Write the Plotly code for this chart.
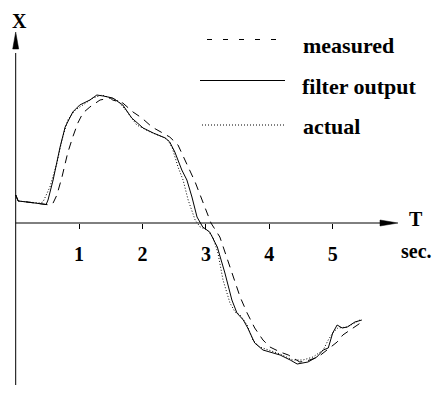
import plotly.graph_objects as go

# ---- data (time in sec, X in arbitrary units) ----
t_filter = [0.00, 0.04, 0.18, 0.43, 0.48, 0.51, 0.59, 0.70, 0.78, 0.90, 1.01, 1.17, 1.28, 1.38, 1.53,
            1.69, 1.83, 2.01, 2.17, 2.36, 2.43, 2.51, 2.62, 2.70, 2.78, 2.86, 2.91, 2.95, 3.06, 3.18,
            3.30, 3.41, 3.49, 3.59, 3.66, 3.77, 3.90, 4.01, 4.17, 4.33, 4.44, 4.61, 4.75, 4.85, 4.93,
            5.00, 5.07, 5.15, 5.23, 5.35, 5.46]
x_filter = [0.56, 0.44, 0.42, 0.38, 0.37, 0.46, 0.86, 1.52, 1.92, 2.22, 2.36, 2.46, 2.56, 2.54, 2.50,
            2.36, 2.10, 1.90, 1.80, 1.70, 1.62, 1.42, 1.06, 0.86, 0.52, 0.12, 0.00, -0.08, -0.18, -0.48,
            -1.00, -1.54, -1.80, -1.94, -2.10, -2.40, -2.54, -2.58, -2.64, -2.74, -2.82, -2.78, -2.68, -2.54, -2.50,
            -2.20, -2.04, -2.10, -2.08, -1.98, -1.94]

t_actual = [0.00, 0.04, 0.18, 0.38, 0.43, 0.54, 0.65, 0.73, 0.82, 0.94, 1.06, 1.22, 1.36, 1.53, 1.60,
            1.76, 1.91, 2.12, 2.32, 2.40, 2.47, 2.56, 2.64, 2.72, 2.83, 2.91, 3.02, 3.11, 3.19, 3.27,
            3.38, 3.46, 3.54, 3.65, 3.74, 3.85, 4.06, 4.17, 4.37, 4.53, 4.69, 4.85, 4.93, 5.00, 5.08,
            5.23, 5.43]
x_actual = [0.56, 0.44, 0.42, 0.40, 0.42, 0.72, 1.20, 1.66, 2.06, 2.26, 2.36, 2.50, 2.56, 2.50, 2.46,
            2.22, 1.96, 1.82, 1.72, 1.66, 1.50, 1.12, 0.86, 0.46, 0.06, -0.08, -0.14, -0.28, -0.60, -1.14,
            -1.60, -1.78, -1.84, -2.04, -2.34, -2.48, -2.58, -2.62, -2.74, -2.74, -2.68, -2.54, -2.34, -2.20, -2.10,
            -2.08, -1.94]

t_measured = [0.00, 0.04, 0.18, 0.46, 0.54, 0.59, 0.65, 0.73, 0.82, 0.90, 0.98, 1.06, 1.17, 1.33, 1.49,
              1.53, 1.69, 1.85, 1.99, 2.15, 2.36, 2.43, 2.56, 2.67, 2.75, 2.83, 2.94, 3.02, 3.08, 3.22,
              3.33, 3.43, 3.54, 3.65, 3.77, 3.90, 4.01, 4.17, 4.30, 4.48, 4.59, 4.77, 4.96, 5.07, 5.16,
              5.27, 5.38, 5.46]
x_measured = [0.56, 0.44, 0.42, 0.38, 0.36, 0.40, 0.56, 0.92, 1.40, 1.72, 2.00, 2.20, 2.32, 2.46, 2.50,
              2.46, 2.40, 2.22, 2.10, 1.92, 1.76, 1.72, 1.56, 1.26, 1.06, 0.82, 0.46, 0.20, 0.00, -0.28,
              -0.68, -1.08, -1.48, -1.80, -2.10, -2.34, -2.48, -2.58, -2.64, -2.78, -2.76, -2.68, -2.50, -2.38, -2.24,
              -2.14, -2.04, -1.98]

tick_vals = [1, 2, 3, 4, 5]
tick_text = ["1", "2", "3", "4", "5"]
legend_names = ["measured", "filter output", "actual"]

W, H = 435, 403
X_RANGE = [-0.2476, 6.6136]
Y_RANGE = [-3.6, 4.46]
FONT = "Liberation Serif"

fig = go.Figure()
fig.add_trace(go.Scatter(x=t_measured, y=x_measured, mode="lines", name=legend_names[0],
                         line=dict(color="black", width=1, dash="8px,6px")))
fig.add_trace(go.Scatter(x=t_actual, y=x_actual, mode="lines", name=legend_names[2],
                         line=dict(color="black", width=1, dash="1px,2px")))
fig.add_trace(go.Scatter(x=t_filter, y=x_filter, mode="lines", name=legend_names[1],
                         line=dict(color="black", width=1)))

def px(xp):
    return xp / W

def py(yp):
    return 1 - yp / H

shapes = []
# axes lines (data coordinates)
shapes.append(dict(type="line", xref="x", yref="y", x0=0, x1=0, y0=-3.24, y1=3.4,
                   line=dict(color="black", width=1)))
shapes.append(dict(type="line", xref="x", yref="y", x0=0, x1=5.8, y0=0, y1=0,
                   line=dict(color="black", width=1)))
# arrow heads (pixel-sized triangles anchored on axes)
shapes.append(dict(type="path", xref="x", yref="y", xsizemode="pixel", ysizemode="pixel",
                   xanchor=0, yanchor=3.82, path="M0,0 L-3,-17 L3,-17 Z",
                   fillcolor="black", line=dict(color="black", width=0.5)))
shapes.append(dict(type="path", xref="x", yref="y", xsizemode="pixel", ysizemode="pixel",
                   xanchor=6.03, yanchor=0, path="M0,0 L-18,3 L-18,-3 Z",
                   fillcolor="black", line=dict(color="black", width=0.5)))
# legend samples
shapes.append(dict(type="line", xref="paper", yref="paper", x0=px(207), x1=px(284), y0=py(39.5), y1=py(39.5),
                   line=dict(color="black", width=1, dash="5px,11px")))
shapes.append(dict(type="line", xref="paper", yref="paper", x0=px(200), x1=px(285), y0=py(80.5), y1=py(80.5),
                   line=dict(color="black", width=1)))
shapes.append(dict(type="line", xref="paper", yref="paper", x0=px(202), x1=px(285), y0=py(125), y1=py(125),
                   line=dict(color="black", width=1, dash="1px,2px")))

bold = dict(family=FONT, size=20, color="black", weight="bold")
legfont = dict(family=FONT, size=22, color="black", weight="bold")
annotations = [
    dict(text="X", x=px(19), y=py(21), xref="paper", yref="paper", showarrow=False,
         font=dict(family=FONT, size=20, color="black", weight="bold"), xanchor="center", yanchor="middle"),
    dict(text="T", x=px(416), y=py(219), xref="paper", yref="paper", showarrow=False,
         font=bold, xanchor="center", yanchor="middle"),
    dict(text="sec.", x=px(416), y=py(251), xref="paper", yref="paper", showarrow=False,
         font=bold, xanchor="center", yanchor="middle"),
    dict(text=legend_names[0], x=px(301), y=py(45), xref="paper", yref="paper", showarrow=False,
         font=legfont, xanchor="left", yanchor="middle"),
    dict(text=legend_names[1], x=px(300), y=py(86), xref="paper", yref="paper", showarrow=False,
         font=legfont, xanchor="left", yanchor="middle"),
    dict(text=legend_names[2], x=px(301), y=py(127), xref="paper", yref="paper", showarrow=False,
         font=legfont, xanchor="left", yanchor="middle"),
]

fig.update_layout(
    width=W, height=H,
    margin=dict(l=0, r=0, t=0, b=0, pad=0),
    paper_bgcolor="white", plot_bgcolor="white",
    showlegend=False,
    shapes=shapes,
    annotations=annotations,
    xaxis=dict(range=X_RANGE, showgrid=False, zeroline=False, showline=False,
               tickmode="array", tickvals=tick_vals, ticktext=tick_text,
               ticks="outside", ticklen=5, tickwidth=1, tickcolor="black",
               tickfont=bold, anchor="free", position=1 - 223 / H, ticklabelstandoff=8),
    yaxis=dict(range=Y_RANGE, visible=False, showgrid=False, zeroline=False),
)

fig.write_html("out.html", config={"displayModeBar": False},
               post_script="document.body.style.margin='0';document.body.style.padding='0';")
